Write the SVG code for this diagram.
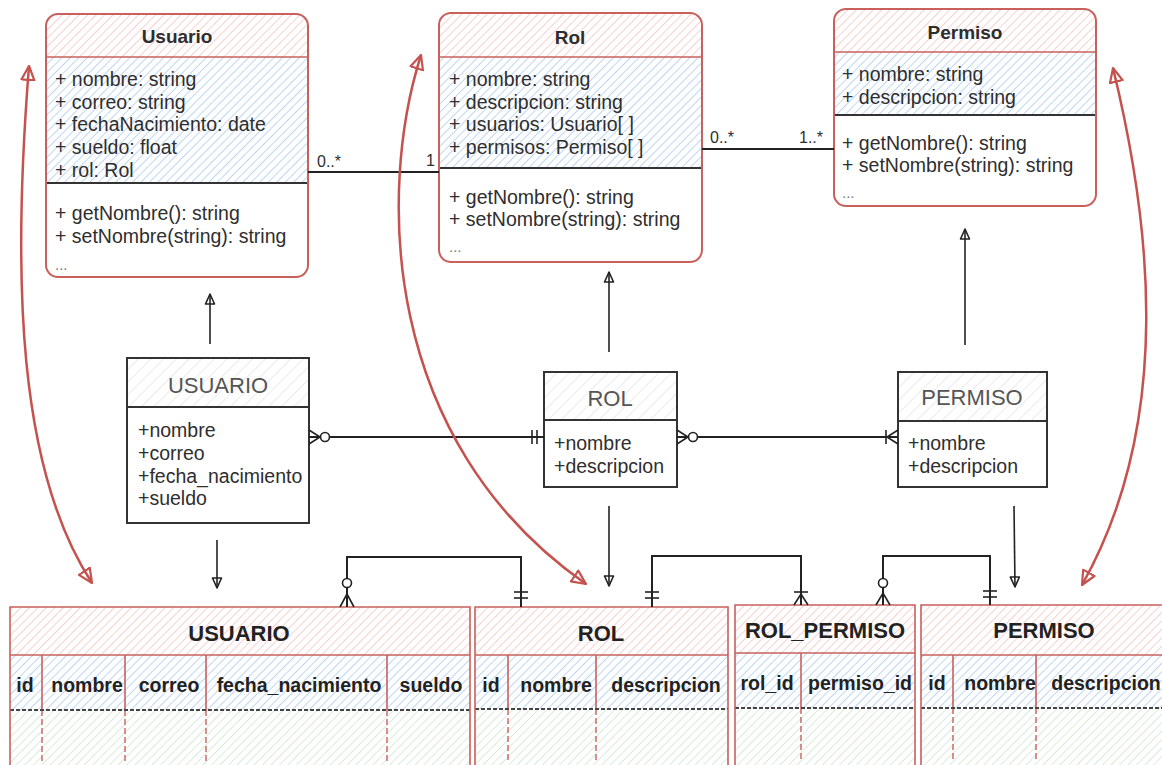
<svg xmlns="http://www.w3.org/2000/svg" width="1162" height="765" viewBox="0 0 1162 765">
  <defs>
    <!-- diagonal hatch fills -->
    <pattern id="hRed" width="6" height="6" patternUnits="userSpaceOnUse" patternTransform="rotate(45)">
      <line x1="0" y1="0" x2="0" y2="6" stroke="#f3bdbb" stroke-width="1.4"/>
    </pattern>
    <pattern id="hBlue" width="6" height="6" patternUnits="userSpaceOnUse" patternTransform="rotate(45)">
      <line x1="0" y1="0" x2="0" y2="6" stroke="#a8c9f1" stroke-width="1.5"/>
    </pattern>
    <pattern id="hGreen" width="6" height="6" patternUnits="userSpaceOnUse" patternTransform="rotate(45)">
      <line x1="0" y1="0" x2="0" y2="6" stroke="#c9e2c8" stroke-width="1.4"/>
    </pattern>
    <pattern id="hGray" width="9" height="9" patternUnits="userSpaceOnUse" patternTransform="rotate(45)">
      <line x1="0" y1="0" x2="0" y2="9" stroke="#dedede" stroke-width="1.2"/>
    </pattern>
    <marker id="redHead" viewBox="0 0 16 16" refX="15" refY="8" markerWidth="16" markerHeight="16" markerUnits="userSpaceOnUse" orient="auto-start-reverse">
      <path d="M1,1.5 L15,8 L1,14.5 Z" fill="none" stroke="#c4524e" stroke-width="2.2" stroke-linejoin="round"/>
    </marker>
    <marker id="openHead" viewBox="0 0 12 12" refX="11" refY="6" markerWidth="12" markerHeight="12" markerUnits="userSpaceOnUse" orient="auto">
      <path d="M1,1.5 L11,6 L1,10.5 Z" fill="none" stroke="#222" stroke-width="1.6" stroke-linejoin="round"/>
    </marker>
  </defs>
  <style>
    .t { font-family: "Liberation Sans", Arial, Helvetica, sans-serif; fill: #2e2e2e; dominant-baseline: central; }
    .attr { font-size: 19.5px; }
    .title { font-size: 19px; font-weight: bold; text-anchor: middle; }
    .dots { font-size: 15px; fill: #777; }
    .mult { font-size: 16px; }
    .erTitle { font-size: 22px; fill: #555; text-anchor: middle; }
    .erAttr { font-size: 19.5px; }
    .tbTitle { font-size: 22px; font-weight: bold; text-anchor: middle; fill: #222; }
    .tbCol { font-size: 19.5px; font-weight: bold; text-anchor: middle; fill: #222; }
    .clsBorder { fill: none; stroke: #c9605c; stroke-width: 2; }
    .redLine { stroke: #c9605c; stroke-width: 1.6; fill: none; }
    .redDash { stroke: #c9605c; stroke-width: 1.4; stroke-dasharray: 6 3; fill: none; }
    .sep { stroke: #333; stroke-width: 2; }
    .rowSep { stroke: #444; stroke-width: 1.8; stroke-dasharray: 4 2; }
    .erBox { fill: none; stroke: #333; stroke-width: 2; }
    .conn { fill: none; stroke: #222; stroke-width: 2; }
    .connThin { fill: none; stroke: #222; stroke-width: 1.6; }
    .redArrow { fill: none; stroke: #c4524e; stroke-width: 2.5; marker-start: url(#redHead); marker-end: url(#redHead); }
  </style>

  <rect x="0" y="0" width="1162" height="765" fill="#fff"/>

  <!-- UML class: Usuario -->
  <g id="class-usuario">
    <rect x="46" y="14" width="262" height="263" rx="12" fill="#fff"/>
    <path d="M46,57 V26 Q46,14 58,14 H296 Q308,14 308,26 V57 Z" fill="url(#hRed)"/>
    <rect x="46" y="57" width="262" height="126" fill="url(#hBlue)"/>
    <line x1="46" y1="57" x2="308" y2="57" class="redLine"/>
    <line x1="46" y1="183" x2="308" y2="183" class="sep"/>
    <rect x="46" y="14" width="262" height="263" rx="12" class="clsBorder"/>
    <text class="t title" x="177" y="36">Usuario</text>
    <text class="t attr" x="55" y="79">+ nombre: string</text>
    <text class="t attr" x="55" y="102">+ correo: string</text>
    <text class="t attr" x="55" y="124">+ fechaNacimiento: date</text>
    <text class="t attr" x="55" y="147">+ sueldo: float</text>
    <text class="t attr" x="55" y="170">+ rol: Rol</text>
    <text class="t attr" x="55" y="213">+ getNombre(): string</text>
    <text class="t attr" x="55" y="236">+ setNombre(string): string</text>
    <text class="t dots" x="55" y="264">...</text>
  </g>

  <!-- UML class: Rol -->
  <g id="class-rol">
    <rect x="439" y="13" width="263" height="249" rx="12" fill="#fff"/>
    <path d="M439,57 V25 Q439,13 451,13 H690 Q702,13 702,25 V57 Z" fill="url(#hRed)"/>
    <rect x="439" y="57" width="263" height="111" fill="url(#hBlue)"/>
    <line x1="439" y1="57" x2="702" y2="57" class="redLine"/>
    <line x1="439" y1="168" x2="702" y2="168" class="sep"/>
    <rect x="439" y="13" width="263" height="249" rx="12" class="clsBorder"/>
    <text class="t title" x="570" y="37">Rol</text>
    <text class="t attr" x="449" y="79">+ nombre: string</text>
    <text class="t attr" x="449" y="102">+ descripcion: string</text>
    <text class="t attr" x="449" y="124">+ usuarios: Usuario[ ]</text>
    <text class="t attr" x="449" y="147">+ permisos: Permiso[ ]</text>
    <text class="t attr" x="449" y="197">+ getNombre(): string</text>
    <text class="t attr" x="449" y="219">+ setNombre(string): string</text>
    <text class="t dots" x="449" y="246">...</text>
  </g>

  <!-- UML class: Permiso -->
  <g id="class-permiso">
    <rect x="834" y="9" width="262" height="197" rx="12" fill="#fff"/>
    <path d="M834,52 V21 Q834,9 846,9 H1084 Q1096,9 1096,21 V52 Z" fill="url(#hRed)"/>
    <rect x="834" y="52" width="262" height="63" fill="url(#hBlue)"/>
    <line x1="834" y1="52" x2="1096" y2="52" class="redLine"/>
    <line x1="834" y1="115" x2="1096" y2="115" class="sep"/>
    <rect x="834" y="9" width="262" height="197" rx="12" class="clsBorder"/>
    <text class="t title" x="965" y="32">Permiso</text>
    <text class="t attr" x="842" y="74">+ nombre: string</text>
    <text class="t attr" x="842" y="97">+ descripcion: string</text>
    <text class="t attr" x="842" y="143">+ getNombre(): string</text>
    <text class="t attr" x="842" y="165">+ setNombre(string): string</text>
    <text class="t dots" x="842" y="192">...</text>
  </g>

  <!-- ER entity: USUARIO -->
  <g id="er-usuario">
    <rect x="127" y="358" width="182" height="165" fill="#fff"/>
    <rect x="127" y="358" width="182" height="49" fill="url(#hGray)"/>
    <line x1="127" y1="407" x2="309" y2="407" stroke="#333" stroke-width="2"/>
    <rect x="127" y="358" width="182" height="165" class="erBox"/>
    <text class="t erTitle" x="218" y="385">USUARIO</text>
    <text class="t erAttr" x="138" y="430">+nombre</text>
    <text class="t erAttr" x="138" y="453">+correo</text>
    <text class="t erAttr" x="138" y="476">+fecha_nacimiento</text>
    <text class="t erAttr" x="138" y="498">+sueldo</text>
  </g>

  <!-- ER entity: ROL -->
  <g id="er-rol">
    <rect x="544" y="372" width="133" height="115" fill="#fff"/>
    <rect x="544" y="372" width="133" height="48" fill="url(#hGray)"/>
    <line x1="544" y1="420" x2="677" y2="420" stroke="#333" stroke-width="2"/>
    <rect x="544" y="372" width="133" height="115" class="erBox"/>
    <text class="t erTitle" x="610" y="398">ROL</text>
    <text class="t erAttr" x="554" y="443">+nombre</text>
    <text class="t erAttr" x="554" y="466">+descripcion</text>
  </g>

  <!-- ER entity: PERMISO -->
  <g id="er-permiso">
    <rect x="898" y="372" width="149" height="115" fill="#fff"/>
    <rect x="898" y="372" width="149" height="49" fill="url(#hGray)"/>
    <line x1="898" y1="421" x2="1047" y2="421" stroke="#333" stroke-width="2"/>
    <rect x="898" y="372" width="149" height="115" class="erBox"/>
    <text class="t erTitle" x="972" y="397">PERMISO</text>
    <text class="t erAttr" x="908" y="443">+nombre</text>
    <text class="t erAttr" x="908" y="466">+descripcion</text>
  </g>

  <!-- Table: USUARIO -->
  <g id="table-usuario">
    <rect x="10" y="607" width="460" height="48" fill="url(#hRed)"/>
    <rect x="10" y="655" width="460" height="55" fill="url(#hBlue)"/>
    <rect x="10" y="710" width="460" height="70" fill="url(#hGreen)"/>
    <line x1="10" y1="655" x2="470" y2="655" class="redLine"/>
    <g class="redLine">
      <line x1="42" y1="655" x2="42" y2="710"/>
      <line x1="125" y1="655" x2="125" y2="710"/>
      <line x1="206" y1="655" x2="206" y2="710"/>
      <line x1="387" y1="655" x2="387" y2="710"/>
    </g>
    <g class="redDash">
      <line x1="42" y1="710" x2="42" y2="762"/>
      <line x1="125" y1="710" x2="125" y2="762"/>
      <line x1="206" y1="710" x2="206" y2="762"/>
      <line x1="387" y1="710" x2="387" y2="762"/>
    </g>
    <line x1="10" y1="710" x2="470" y2="710" class="rowSep"/>
    <path d="M10,780 V607 H470 V780" class="redLine"/>
    <text class="t tbTitle" x="239" y="633">USUARIO</text>
    <text class="t tbCol" x="25" y="685">id</text>
    <text class="t tbCol" x="87" y="685">nombre</text>
    <text class="t tbCol" x="169" y="685">correo</text>
    <text class="t tbCol" x="299" y="685">fecha_nacimiento</text>
    <text class="t tbCol" x="431" y="685">sueldo</text>
  </g>

  <!-- Table: ROL -->
  <g id="table-rol">
    <rect x="475" y="607" width="253" height="48" fill="url(#hRed)"/>
    <rect x="475" y="655" width="253" height="54" fill="url(#hBlue)"/>
    <rect x="475" y="709" width="253" height="71" fill="url(#hGreen)"/>
    <line x1="475" y1="655" x2="728" y2="655" class="redLine"/>
    <g class="redLine">
      <line x1="508" y1="655" x2="508" y2="709"/>
      <line x1="596" y1="655" x2="596" y2="709"/>
    </g>
    <g class="redDash">
      <line x1="508" y1="709" x2="508" y2="762"/>
      <line x1="596" y1="709" x2="596" y2="762"/>
    </g>
    <line x1="475" y1="709" x2="728" y2="709" class="rowSep"/>
    <path d="M475,780 V607 H728 V780" class="redLine"/>
    <text class="t tbTitle" x="601" y="633">ROL</text>
    <text class="t tbCol" x="491" y="685">id</text>
    <text class="t tbCol" x="556" y="685">nombre</text>
    <text class="t tbCol" x="666" y="685">descripcion</text>
  </g>

  <!-- Table: ROL_PERMISO -->
  <g id="table-rol-permiso">
    <rect x="735" y="605" width="180" height="48" fill="url(#hRed)"/>
    <rect x="735" y="653" width="180" height="55" fill="url(#hBlue)"/>
    <rect x="735" y="708" width="180" height="72" fill="url(#hGreen)"/>
    <line x1="735" y1="653" x2="915" y2="653" class="redLine"/>
    <line x1="801" y1="653" x2="801" y2="708" class="redLine"/>
    <line x1="801" y1="708" x2="801" y2="762" class="redDash"/>
    <line x1="735" y1="708" x2="915" y2="708" class="rowSep"/>
    <path d="M735,780 V605 H915 V780" class="redLine"/>
    <text class="t tbTitle" x="825" y="630">ROL_PERMISO</text>
    <text class="t tbCol" x="767" y="683">rol_id</text>
    <text class="t tbCol" x="860" y="683">permiso_id</text>
  </g>

  <!-- Table: PERMISO -->
  <g id="table-permiso">
    <rect x="921" y="605" width="250" height="50" fill="url(#hRed)"/>
    <rect x="921" y="655" width="250" height="53" fill="url(#hBlue)"/>
    <rect x="921" y="708" width="250" height="72" fill="url(#hGreen)"/>
    <line x1="921" y1="655" x2="1171" y2="655" class="redLine"/>
    <g class="redLine">
      <line x1="953" y1="655" x2="953" y2="708"/>
      <line x1="1036" y1="655" x2="1036" y2="708"/>
    </g>
    <g class="redDash">
      <line x1="953" y1="708" x2="953" y2="762"/>
      <line x1="1036" y1="708" x2="1036" y2="762"/>
    </g>
    <line x1="921" y1="708" x2="1171" y2="708" class="rowSep"/>
    <path d="M921,780 V605 H1171" class="redLine"/>
    <text class="t tbTitle" x="1044" y="630">PERMISO</text>
    <text class="t tbCol" x="937" y="683">id</text>
    <text class="t tbCol" x="1000" y="683">nombre</text>
    <text class="t tbCol" x="1106" y="683">descripcion</text>
  </g>

  <!-- Connectors -->
  <g id="connectors">
    <!-- UML associations with multiplicities -->
    <line x1="308" y1="172" x2="439" y2="172" class="conn"/>
    <text class="t mult" x="317" y="161">0..*</text>
    <text class="t mult" x="426" y="160">1</text>
    <line x1="702" y1="149" x2="834" y2="149" class="conn"/>
    <text class="t mult" x="710" y="137">0..*</text>
    <text class="t mult" x="799" y="137">1..*</text>

    <!-- ER entity to class (hollow heads) -->
    <line x1="210" y1="344" x2="210" y2="294" class="connThin" marker-end="url(#openHead)"/>
    <line x1="609" y1="352" x2="609" y2="272" class="connThin" marker-end="url(#openHead)"/>
    <line x1="965" y1="345" x2="965" y2="229" class="connThin" marker-end="url(#openHead)"/>

    <!-- ER entity to table -->
    <line x1="217" y1="540" x2="217" y2="588" class="connThin" marker-end="url(#openHead)"/>
    <line x1="609" y1="506" x2="609" y2="586" class="connThin" marker-end="url(#openHead)"/>
    <line x1="1014" y1="506" x2="1015" y2="587" class="connThin" marker-end="url(#openHead)"/>

    <!-- ER: USUARIO (zero or many) to ROL (exactly one) -->
    <line x1="309" y1="437" x2="544" y2="437" class="conn"/>
    <path d="M309,430 L320,437 L309,444" class="connThin"/>
    <circle cx="325" cy="437" r="4.5" fill="#fff" stroke="#222" stroke-width="1.6"/>
    <line x1="532" y1="430" x2="532" y2="444" class="connThin"/>
    <line x1="537" y1="430" x2="537" y2="444" class="connThin"/>

    <!-- ER: ROL (zero or many) to PERMISO (one or many) -->
    <line x1="677" y1="437" x2="898" y2="437" class="conn"/>
    <path d="M677,430 L688,437 L677,444" class="connThin"/>
    <circle cx="693" cy="437" r="4.5" fill="#fff" stroke="#222" stroke-width="1.6"/>
    <line x1="886" y1="430" x2="886" y2="444" class="connThin"/>
    <path d="M898,430 L887,437 L898,444" class="connThin"/>

    <!-- Tables: USUARIO (zero or many) to ROL (exactly one) -->
    <path d="M347,607 V557 H521 V607" class="conn"/>
    <path d="M340,607 L347,594 L354,607" class="connThin"/>
    <circle cx="347" cy="583" r="4.5" fill="#fff" stroke="#222" stroke-width="1.6"/>
    <line x1="514" y1="592" x2="528" y2="592" class="connThin"/>
    <line x1="514" y1="598" x2="528" y2="598" class="connThin"/>

    <!-- Tables: ROL (exactly one) to ROL_PERMISO (one or many) -->
    <path d="M652,607 V556 H801 V605" class="conn"/>
    <line x1="645" y1="592" x2="659" y2="592" class="connThin"/>
    <line x1="645" y1="598" x2="659" y2="598" class="connThin"/>
    <line x1="794" y1="592" x2="808" y2="592" class="connThin"/>
    <path d="M794,605 L801,594 L808,605" class="connThin"/>

    <!-- Tables: ROL_PERMISO (zero or many) to PERMISO (exactly one) -->
    <path d="M883,605 V556 H990 V605" class="conn"/>
    <path d="M876,605 L883,593 L890,605" class="connThin"/>
    <circle cx="883" cy="583" r="4.5" fill="#fff" stroke="#222" stroke-width="1.6"/>
    <line x1="983" y1="591" x2="997" y2="591" class="connThin"/>
    <line x1="983" y1="597" x2="997" y2="597" class="connThin"/>

    <!-- mapping arcs between class and table -->
    <path d="M29,66 C12,280 18,470 92,583" class="redArrow"/>
    <path d="M421,55 C378,190 380,440 586,584" class="redArrow"/>
    <path d="M1113,68 C1150,220 1175,420 1082,585" class="redArrow"/>
  </g>
</svg>
